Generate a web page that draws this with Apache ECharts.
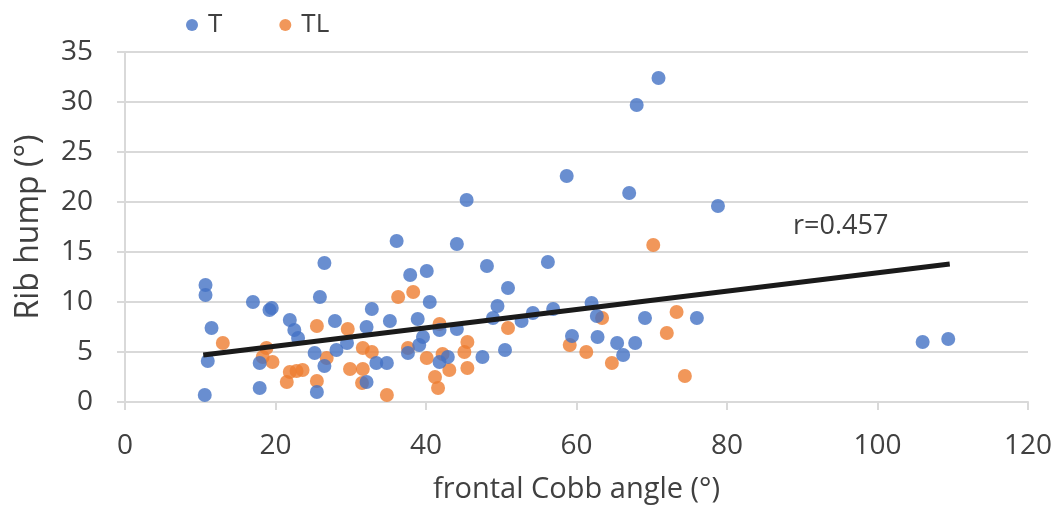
<!DOCTYPE html>
<html>
<head>
<meta charset="utf-8">
<script src="https://cdn.jsdelivr.net/npm/echarts@6/dist/echarts.min.js"></script>
<style>
  html, body { margin: 0; padding: 0; background: #fff; }
  #chart { width: 1056px; height: 512px; }
</style>
</head>
<body>
<div id="chart"></div>
<script>
// T curves: [frontal Cobb angle, rib hump]
const tPoints = [
  [10.7, 11.7], [10.7, 10.7], [11, 4.1], [10.6, 0.7], [11.5, 7.4],
  [17, 10], [19.2, 9.2], [19.5, 9.4], [17.9, 1.4], [17.9, 3.9],
  [21.9, 8.2], [22.5, 7.2], [23, 6.4], [26.5, 13.9], [25.9, 10.5],
  [27.9, 8.1], [32.8, 9.3], [32.1, 7.5], [29.5, 5.9], [28.1, 5.2],
  [25.2, 4.9], [26.5, 3.6], [25.5, 1.0], [32.1, 2.0], [33.4, 3.9],
  [34.8, 3.9], [35.2, 8.1], [36.1, 16.1], [44.1, 15.8], [37.9, 12.7],
  [40.1, 13.1], [48.1, 13.6], [56.2, 14.0], [50.9, 11.4], [40.5, 10.0],
  [49.5, 9.6], [38.9, 8.3], [41.8, 7.2], [44.1, 7.3], [54.2, 8.9],
  [56.9, 9.3], [52.7, 8.1], [48.9, 8.4], [39.6, 6.5], [39.1, 5.7],
  [37.6, 4.9], [41.8, 4.0], [42.9, 4.5], [47.5, 4.5], [50.5, 5.2],
  [45.4, 20.2], [59.4, 6.6], [62.0, 9.9], [62.7, 8.6], [62.8, 6.5],
  [69.1, 8.4], [76.0, 8.4], [65.4, 5.9], [67.8, 5.9], [66.2, 4.7],
  [70.9, 32.4], [68.0, 29.7], [58.7, 22.6], [67.0, 20.9], [78.8, 19.6],
  [106, 6.0], [109.4, 6.3]
];

// TL curves: [frontal Cobb angle, rib hump]
const tlPoints = [
  [13.0, 5.9], [18.8, 5.4], [18.3, 4.5], [19.6, 4.0], [21.9, 3.0],
  [21.5, 2.0], [22.8, 3.1], [23.6, 3.2], [25.5, 7.6], [25.5, 2.1],
  [26.8, 4.4], [29.6, 7.3], [29.9, 3.3], [31.6, 5.4], [32.8, 5.0],
  [31.6, 3.3], [31.5, 1.9], [34.8, 0.7], [36.3, 10.5], [38.3, 11.0],
  [41.8, 7.8], [37.6, 5.4], [40.1, 4.4], [42.2, 4.8], [43.1, 3.2],
  [45.5, 6.0], [45.1, 5.0], [45.5, 3.4], [41.2, 2.5], [41.6, 1.4],
  [50.9, 7.4], [59.1, 5.7], [70.2, 15.7], [63.4, 8.4], [73.3, 9.0],
  [72.0, 6.9], [61.3, 5.0], [64.7, 3.9], [74.4, 2.6]
];

// linear trend line end points
const trendLine = [[10.4, 4.7], [109.6, 13.8]];
const rLabel = 'r=0.457';

const xTicks = { min: 0, max: 120, interval: 20 };
const yTicks = { min: 0, max: 35, interval: 5 };

const FONT = '"Open Sans"';
const TEXT = '#404040';
const chart = echarts.init(document.getElementById('chart'));

chart.setOption({
  backgroundColor: '#fff',
  animation: false,
  textStyle: { fontFamily: FONT },
  legend: {
    left: 181,
    top: 7,
    itemGap: 57,
    itemWidth: 12,
    itemHeight: 12,
    icon: 'circle',
    data: ['T', 'TL'],
    textStyle: { fontSize: 26, color: TEXT, fontFamily: FONT, padding: [0, 0, 0, 5] }
  },
  grid: { left: 125, right: 28, top: 52, bottom: 110 },
  xAxis: {
    type: 'value',
    min: xTicks.min,
    max: xTicks.max,
    interval: xTicks.interval,
    name: 'frontal Cobb angle (°)',
    nameLocation: 'middle',
    nameGap: 73,
    nameTextStyle: { fontSize: 29, color: TEXT },
    axisLine: { show: true, lineStyle: { color: '#d9d9d9', width: 2 } },
    axisTick: { show: true, length: 8, lineStyle: { color: '#d9d9d9', width: 2 } },
    axisLabel: { fontSize: 28, color: TEXT, margin: 30 },
    splitLine: { show: false }
  },
  yAxis: {
    type: 'value',
    min: yTicks.min,
    max: yTicks.max,
    interval: yTicks.interval,
    name: 'Rib hump (°)',
    nameLocation: 'middle',
    nameGap: 80,
    nameTextStyle: { fontSize: 32, color: TEXT },
    axisLine: { show: true, lineStyle: { color: '#d9d9d9', width: 2 } },
    axisTick: { show: true, length: 8, lineStyle: { color: '#d9d9d9', width: 2 } },
    axisLabel: { fontSize: 28, color: TEXT, margin: 32 },
    splitLine: { show: true, lineStyle: { color: '#d9d9d9', width: 2 } }
  },
  series: [
    {
      name: 'T',
      type: 'scatter',
      symbolSize: 14,
      itemStyle: { color: '#4472c4' },
      data: tPoints,
      z: 3
    },
    {
      name: 'TL',
      type: 'scatter',
      symbolSize: 14,
      itemStyle: { color: '#ed7d31' },
      data: tlPoints,
      z: 2
    },
    {
      name: 'trend',
      type: 'line',
      data: trendLine,
      symbol: 'none',
      lineStyle: { color: '#1a1a1a', width: 5 },
      z: 4
    }
  ],
  graphic: [
    {
      type: 'text',
      left: 793,
      top: 213,
      style: { text: rLabel, fontSize: 27, fill: TEXT, fontFamily: FONT }
    }
  ]
});
</script>
</body>
</html>
